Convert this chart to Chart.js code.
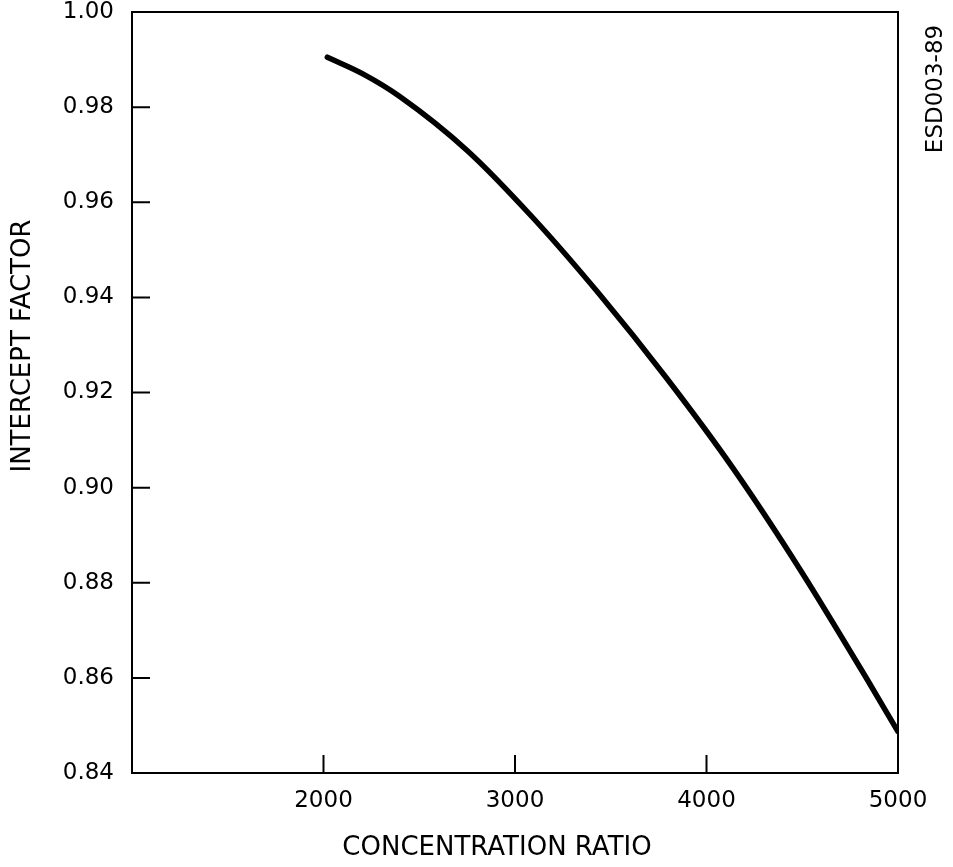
<!DOCTYPE html>
<html>
<head>
<meta charset="utf-8">
<title>Intercept factor vs concentration ratio</title>
<script src="https://cdn.jsdelivr.net/npm/chart.js@4/dist/chart.umd.min.js"></script>
<style>
  html, body { margin: 0; padding: 0; background: #fff; }
  #wrap { width: 953px; height: 867px; }
</style>
</head>
<body>
<div id="wrap"><canvas id="chart" width="953" height="867"></canvas></div>
<script>
// Curve
const concentration = [2020, 2210, 2400, 2750, 3090, 3440, 3790, 4140, 4490, 4840, 5000];
const interceptFactor = [0.9905, 0.9869, 0.9822, 0.9709, 0.9569, 0.9407, 0.9231, 0.9040, 0.8827, 0.8596, 0.8487];

// Axis ranges / labels
const xTicks = [2000, 3000, 4000, 5000];
const yTicks = [0.84, 0.86, 0.88, 0.90, 0.92, 0.94, 0.96, 0.98, 1.00];
const xTitle = 'CONCENTRATION RATIO';
const yTitle = 'INTERCEPT FACTOR';
const figureId = 'ESD003-89';

const FONT = '"DejaVu Sans", "Liberation Sans", sans-serif';

// Frame, inward tick marks and the text around the plot
const framePlugin = {
  id: 'frame',
  afterDraw(chart) {
    const { ctx, chartArea: a, scales } = chart;
    ctx.save();
    ctx.strokeStyle = '#000';
    ctx.lineWidth = 2;
    ctx.strokeRect(a.left, a.top, a.right - a.left, a.bottom - a.top);

    // ticks pointing into the plot
    const len = 18;
    ctx.beginPath();
    xTicks.forEach(v => {
      const px = scales.x.getPixelForValue(v);
      ctx.moveTo(px, a.bottom);
      ctx.lineTo(px, a.bottom - len);
    });
    yTicks.forEach(v => {
      const py = scales.y.getPixelForValue(v);
      ctx.moveTo(a.left, py);
      ctx.lineTo(a.left + len, py);
    });
    ctx.stroke();

    ctx.fillStyle = '#000';
    ctx.textAlign = 'center';
    ctx.textBaseline = 'middle';
    ctx.font = '26px ' + FONT;
    ctx.fillText(xTitle, 497, 848);

    ctx.save();
    ctx.translate(23, 346);
    ctx.rotate(-Math.PI / 2);
    ctx.fillText(yTitle, 0, 0);
    ctx.restore();

    ctx.save();
    ctx.font = '23px ' + FONT;
    ctx.translate(936, 89);
    ctx.rotate(-Math.PI / 2);
    ctx.fillText(figureId, 0, 0);
    ctx.restore();
    ctx.restore();
  }
};

new Chart(document.getElementById('chart'), {
  type: 'scatter',
  data: {
    datasets: [{
      data: concentration.map((c, i) => ({ x: c, y: interceptFactor[i] })),
      showLine: true,
      borderColor: '#000',
      borderWidth: 5.5,
      borderCapStyle: 'round',
      pointRadius: 0,
      cubicInterpolationMode: 'monotone',
      fill: false
    }]
  },
  options: {
    responsive: false,
    animation: false,
    layout: { padding: { top: 12, right: 55, left: 0, bottom: 0 } },
    plugins: {
      legend: { display: false },
      tooltip: { enabled: false }
    },
    scales: {
      x: {
        type: 'linear',
        min: 1000,
        max: 5000,
        afterBuildTicks: s => { s.ticks = xTicks.map(v => ({ value: v })); },
        ticks: {
          color: '#000',
          font: { family: FONT, size: 23 },
          padding: 14,
          maxRotation: 0,
          callback: v => String(v)
        },
        grid: { display: false, drawTicks: false },
        border: { display: false },
        afterFit: s => { s.height = 94; s.paddingLeft = 0; s.paddingRight = 0; }
      },
      y: {
        type: 'linear',
        min: 0.84,
        max: 1.00,
        afterBuildTicks: s => { s.ticks = yTicks.map(v => ({ value: v })); },
        ticks: {
          color: '#000',
          font: { family: FONT, size: 23 },
          padding: 18,
          callback: v => v.toFixed(2)
        },
        grid: { display: false, drawTicks: false },
        border: { display: false },
        afterFit: s => { s.width = 132; s.paddingTop = 0; s.paddingBottom = 0; }
      }
    }
  },
  plugins: [framePlugin]
});
</script>
</body>
</html>
